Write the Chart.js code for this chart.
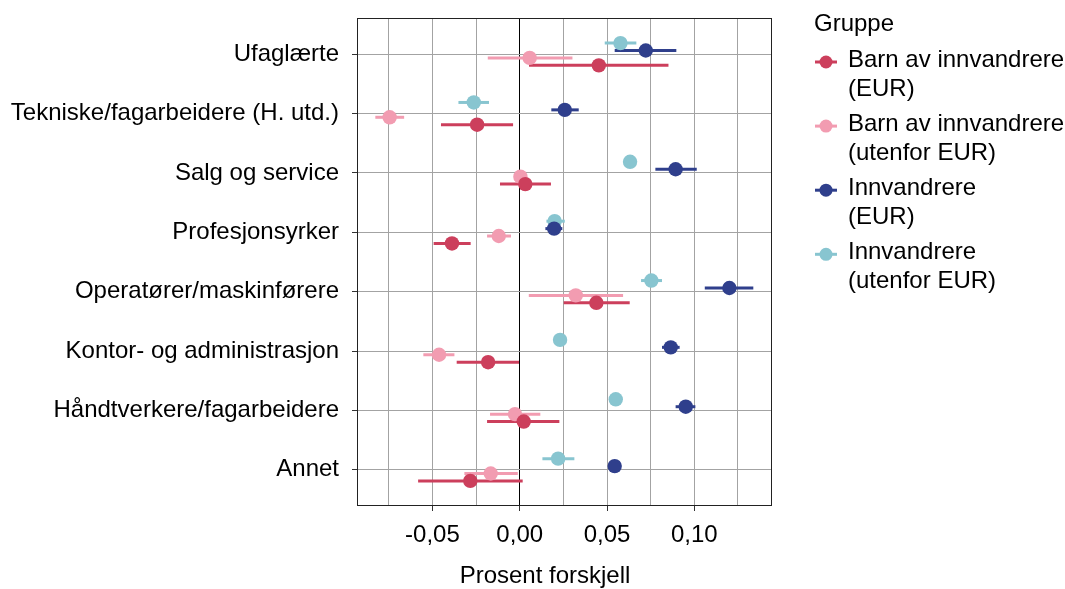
<!DOCTYPE html>
<html lang="no">
<head>
<meta charset="utf-8">
<title>Prosent forskjell etter yrkesgruppe</title>
<script src="https://cdn.jsdelivr.net/npm/chart.js@4.4.1/dist/chart.umd.min.js"></script>
<style>
  html, body { margin: 0; padding: 0; background: #fff; }
  canvas { display: block; }
</style>
</head>
<body>
<canvas id="forskjellChart" width="1065" height="589"></canvas>
<script>
// Yrkesgrupper, ovenfra og ned
const kategorier = [
    'Ufaglærte',
    'Tekniske/fagarbeidere (H. utd.)',
    'Salg og service',
    'Profesjonsyrker',
    'Operatører/maskinførere',
    'Kontor- og administrasjon',
    'Håndtverkere/fagarbeidere',
    'Annet'
];

// Grupper (tekst i to linjer i forklaringen)
const grupper = [
    ['Barn av innvandrere', '(EUR)'],
    ['Barn av innvandrere', '(utenfor EUR)'],
    ['Innvandrere', '(EUR)'],
    ['Innvandrere', '(utenfor EUR)']
];
const farger = ['#cc3f5c', '#f29cb1', '#2f3f8c', '#88c5d0'];

// Estimat og konfidensintervall per gruppe
const barnEUR     = [0.0453, -0.0244, 0.0032, -0.0388, 0.0439, -0.0181, 0.0023, -0.0283];
const barnEURLav  = [0.0053, -0.0451, -0.0113, -0.0493, 0.0252, -0.0361, -0.0187, -0.0582];
const barnEURHoy  = [0.0852, -0.0038, 0.0179, -0.0281, 0.0630, -0.0004, 0.0227, 0.0017];

const barnUtenfor    = [0.0057, -0.0745, 0.0004, -0.0120, 0.0321, -0.0462, -0.0027, -0.0166];
const barnUtenforLav = [-0.0183, -0.0827, -0.0030, -0.0187, 0.0052, -0.0552, -0.0170, -0.0317];
const barnUtenforHoy = [0.0302, -0.0662, 0.0040, -0.0050, 0.0592, -0.0374, 0.0118, -0.0011];

const innvEUR    = [0.0722, 0.0258, 0.0893, 0.0197, 0.1201, 0.0865, 0.0951, 0.0544];
const innvEURLav = [0.0544, 0.0181, 0.0777, 0.0147, 0.1060, 0.0815, 0.0893, 0.0515];
const innvEURHoy = [0.0897, 0.0338, 0.1014, 0.0244, 0.1338, 0.0916, 0.1006, 0.0573];

const innvUtenfor    = [0.0577, -0.0263, 0.0632, 0.0200, 0.0754, 0.0231, 0.0550, 0.0220];
const innvUtenforLav = [0.0487, -0.0351, 0.0605, 0.0153, 0.0695, 0.0205, 0.0524, 0.0130];
const innvUtenforHoy = [0.0668, -0.0176, 0.0659, 0.0258, 0.0815, 0.0257, 0.0576, 0.0313];

// Akseinndeling
const xHovedTicks = [-0.05, 0, 0.05, 0.10];
const xTickTekster = ['-0,05', '0,00', '0,05', '0,10'];
const xHjelpeTicks = [-0.075, -0.025, 0.025, 0.075, 0.125];
const xTittel = 'Prosent forskjell';

const serier = [
    { est: barnEUR, lav: barnEURLav, hoy: barnEURHoy },
    { est: barnUtenfor, lav: barnUtenforLav, hoy: barnUtenforHoy },
    { est: innvEUR, lav: innvEURLav, hoy: innvEURHoy },
    { est: innvUtenfor, lav: innvUtenforLav, hoy: innvUtenforHoy }
];

// forskyvning innen hver kategori (dodge)
const dodge = [0.1875, 0.0625, -0.0625, -0.1875];
const fontFamily = '"Liberation Sans", Arial, Helvetica, sans-serif';
const tekstFont = { family: fontFamily, size: 24 };

const alleXTicks = xHovedTicks.concat(xHjelpeTicks).sort((a, b) => a - b);
const erHoved = v => xHovedTicks.some(h => Math.abs(h - v) < 1e-9);

// Feilstolper under punktene
const feilstolper = {
    id: 'feilstolper',
    beforeDatasetsDraw(chart) {
        const ctx = chart.ctx;
        const xs = chart.scales.x, ys = chart.scales.y;
        ctx.save();
        ctx.lineWidth = 3;
        ctx.lineCap = 'butt';
        serier.forEach((s, k) => {
            ctx.strokeStyle = farger[k];
            s.est.forEach((v, i) => {
                const y = ys.getPixelForValue(i + dodge[k]);
                ctx.beginPath();
                ctx.moveTo(xs.getPixelForValue(s.lav[i]), y);
                ctx.lineTo(xs.getPixelForValue(s.hoy[i]), y);
                ctx.stroke();
            });
        });
        ctx.restore();
    }
};

// Ramme rundt panelet, aksetittel og forklaring til høyre
const rammeOgForklaring = {
    id: 'rammeOgForklaring',
    afterDraw(chart) {
        const ctx = chart.ctx;
        const a = chart.chartArea;
        ctx.save();
        ctx.strokeStyle = '#222';
        ctx.lineWidth = 1;
        ctx.strokeRect(a.left + 0.5, a.top + 0.5, a.right - a.left - 1, a.bottom - a.top - 1);

        ctx.font = '24px ' + fontFamily;
        ctx.fillStyle = '#000';
        ctx.textBaseline = 'middle';
        ctx.textAlign = 'center';
        ctx.fillText(xTittel, 545, 576);

        ctx.textAlign = 'left';
        ctx.fillText('Gruppe', 814, 24);
        grupper.forEach((linjer, k) => {
            const y0 = 60.5 + k * 64.1;
            ctx.strokeStyle = farger[k];
            ctx.fillStyle = farger[k];
            ctx.lineWidth = 3;
            ctx.beginPath();
            ctx.moveTo(815, y0 + 1.5);
            ctx.lineTo(837, y0 + 1.5);
            ctx.stroke();
            ctx.beginPath();
            ctx.arc(826, y0 + 1.5, 6.5, 0, Math.PI * 2);
            ctx.fill();
            ctx.fillStyle = '#000';
            linjer.forEach((t, j) => ctx.fillText(t, 848, y0 + j * 28.5));
        });
        ctx.restore();
    }
};

const ctx = document.getElementById('forskjellChart').getContext('2d');
const chart = new Chart(ctx, {
    type: 'scatter',
    data: {
        datasets: serier.map((s, k) => ({
            label: grupper[k].join(' '),
            data: s.est.map((v, i) => ({ x: v, y: i + dodge[k] })),
            backgroundColor: farger[k],
            borderColor: farger[k],
            borderWidth: 0,
            pointRadius: 7.2,
            pointHoverRadius: 7.2
        }))
    },
    options: {
        responsive: false,
        animation: false,
        devicePixelRatio: 1,
        events: [],
        layout: { padding: { top: 18, right: 293, bottom: 0, left: 0 } },
        plugins: {
            legend: { display: false },
            tooltip: { enabled: false }
        },
        scales: {
            x: {
                type: 'linear',
                min: -0.0932,
                max: 0.1445,
                afterBuildTicks: ax => { ax.ticks = alleXTicks.map(v => ({ value: v })); },
                afterFit: ax => {
                    ax.height = 83;
                    ax.paddingLeft = 0;
                    ax.paddingRight = 0;
                },
                border: { display: false },
                grid: {
                    color: c => (c.tick && Math.abs(c.tick.value) < 1e-9) ? '#000' : '#a3a3a3',
                    lineWidth: 1,
                    tickLength: 5,
                    tickColor: c => (c.tick && erHoved(c.tick.value)) ? '#333' : 'rgba(0,0,0,0)'
                },
                ticks: {
                    autoSkip: false,
                    maxRotation: 0,
                    padding: 10,
                    color: '#000',
                    font: tekstFont,
                    callback: v => {
                        const i = xHovedTicks.findIndex(h => Math.abs(h - v) < 1e-9);
                        return i >= 0 ? xTickTekster[i] : '';
                    }
                }
            },
            y: {
                type: 'linear',
                min: -0.61,
                max: 7.61,
                reverse: true,
                afterBuildTicks: ax => { ax.ticks = kategorier.map((c, i) => ({ value: i })); },
                afterFit: ax => {
                    ax.width = 357;
                    ax.paddingTop = 0;
                    ax.paddingBottom = 0;
                },
                border: { display: false },
                grid: {
                    color: '#a3a3a3',
                    lineWidth: 1,
                    tickLength: 5,
                    tickColor: '#333'
                },
                ticks: {
                    autoSkip: false,
                    padding: 13,
                    color: '#000',
                    font: tekstFont,
                    callback: v => kategorier[v]
                }
            }
        }
    },
    plugins: [feilstolper, rammeOgForklaring]
});
</script>
</body>
</html>
